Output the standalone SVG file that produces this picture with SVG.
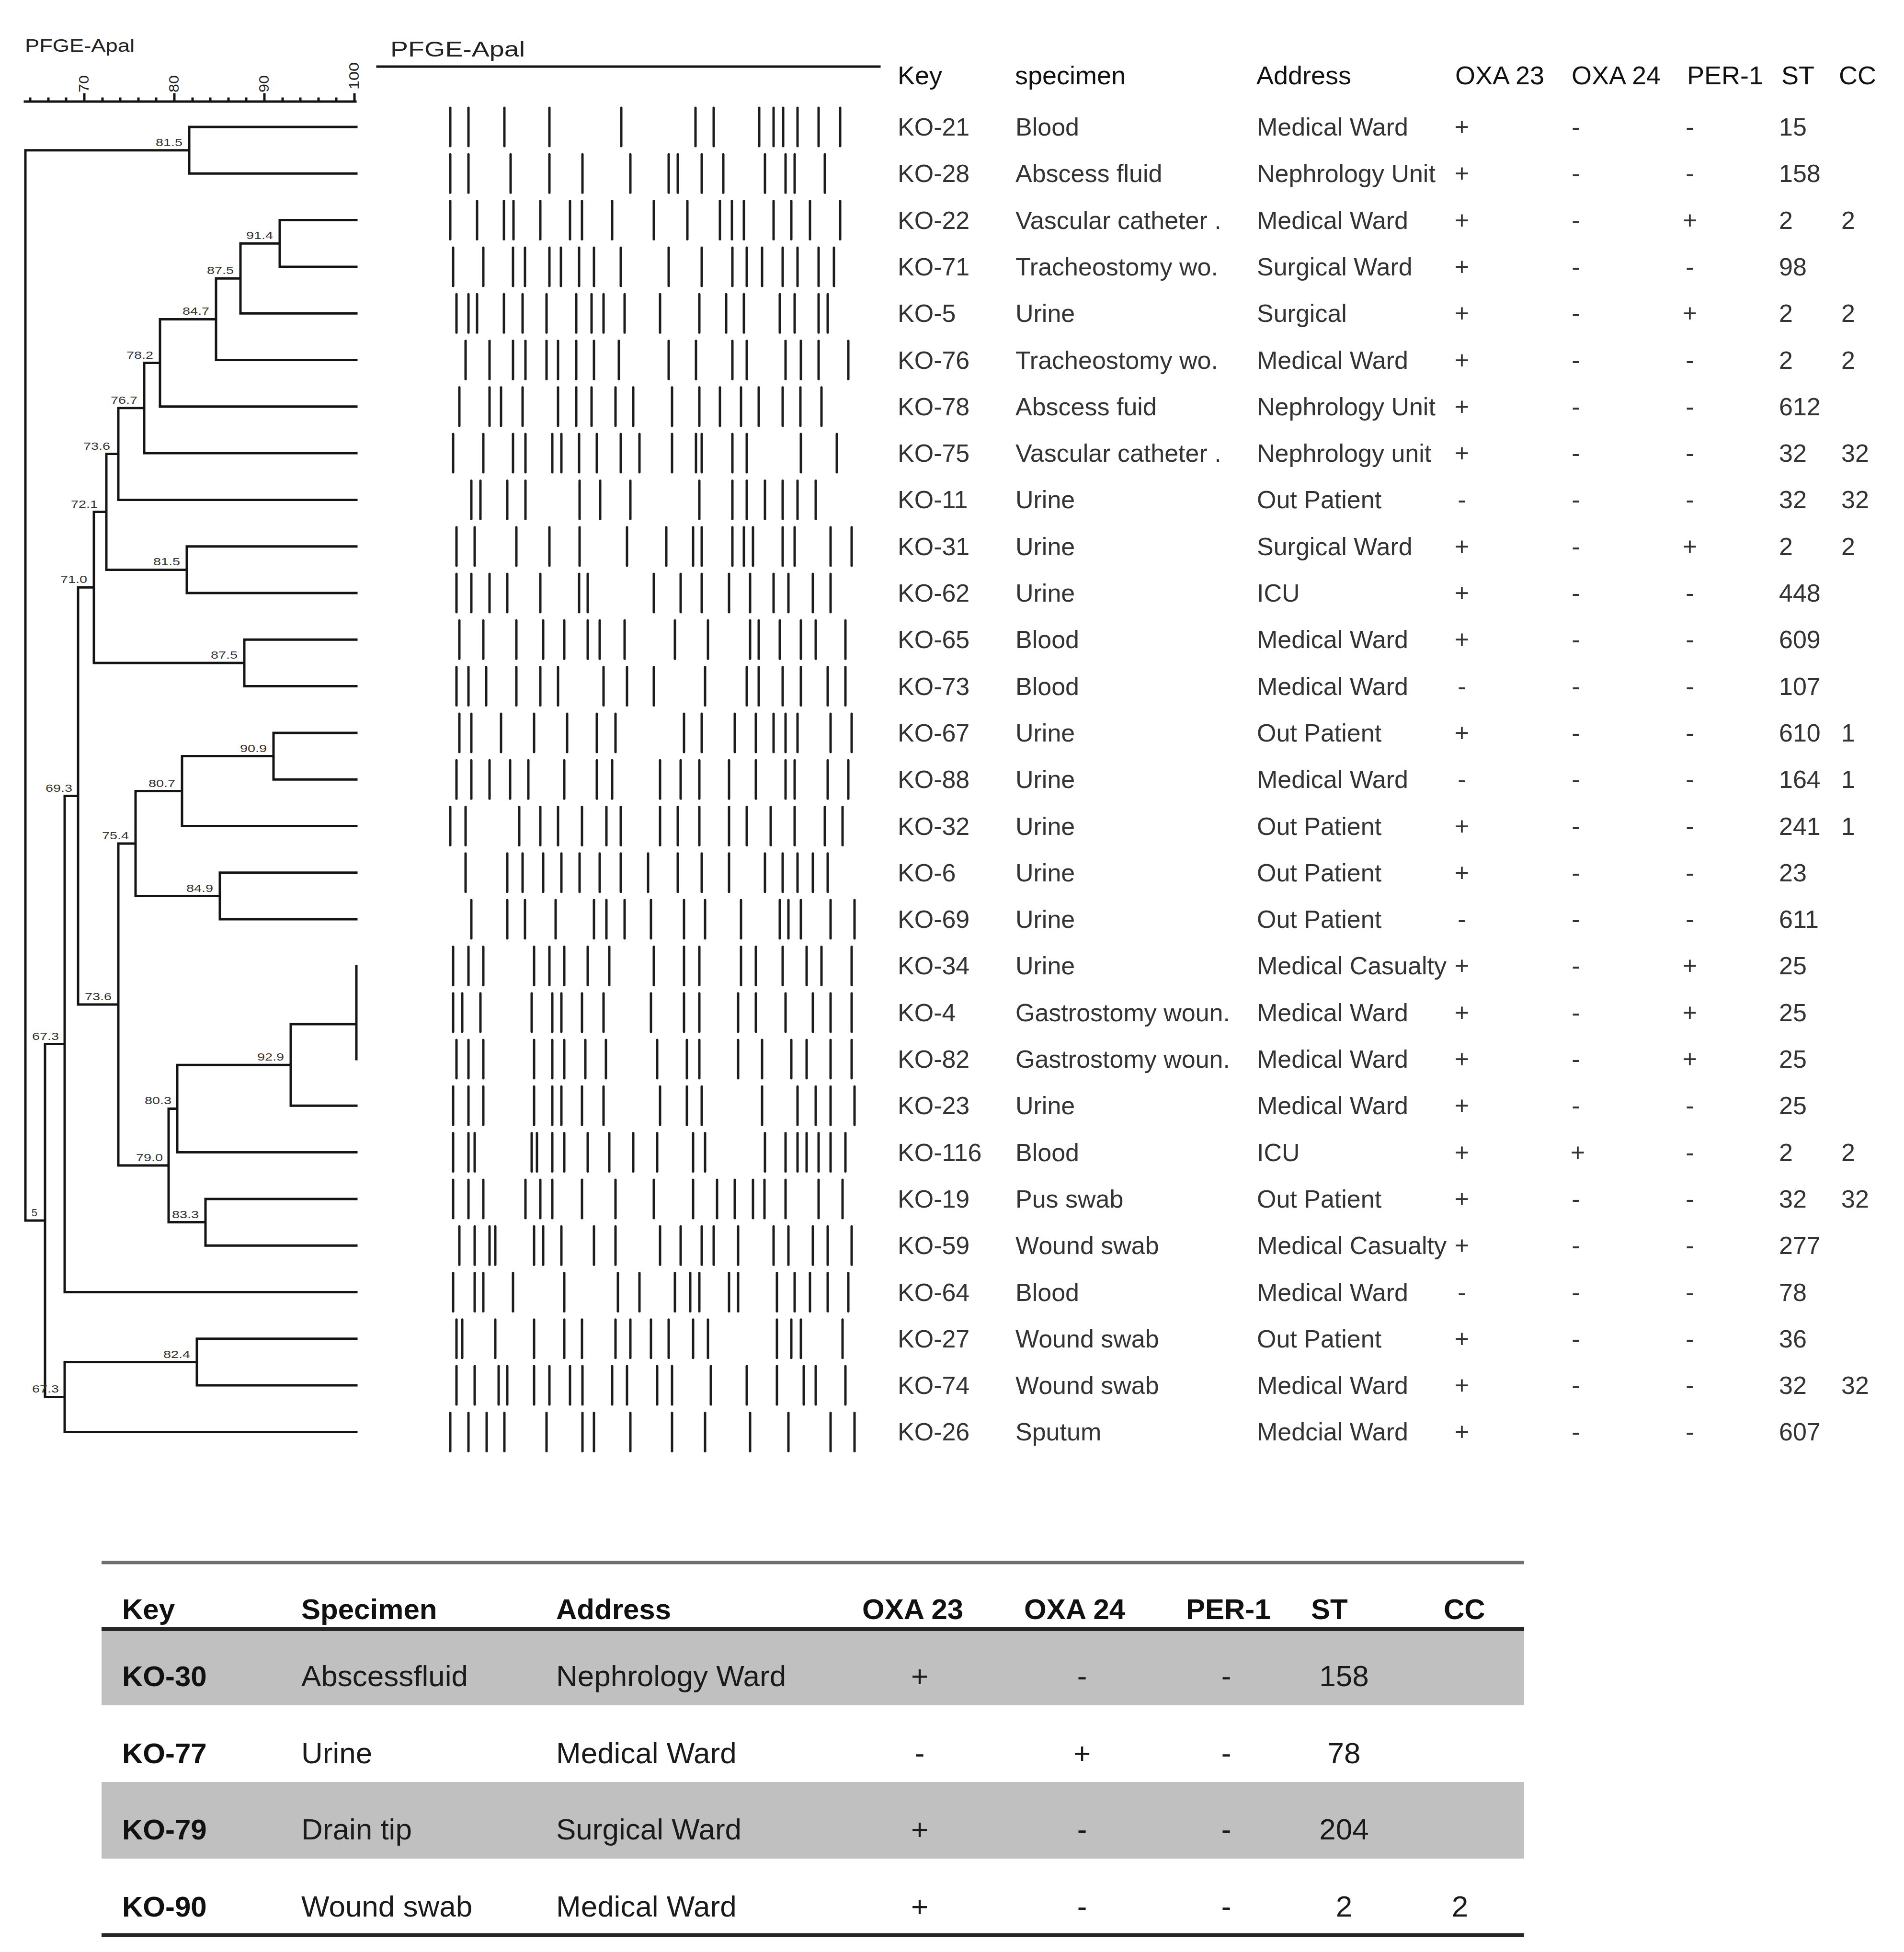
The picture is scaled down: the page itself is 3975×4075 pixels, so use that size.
<svg xmlns="http://www.w3.org/2000/svg" width="3975" height="4075" viewBox="0 0 3975 4075">
<style>
text{font-family:"Liberation Sans",Arial,sans-serif}
.tree{fill:none;stroke:#141414;stroke-width:5;stroke-linecap:square}
.band{fill:none;stroke:#1c1c1c;stroke-width:5;stroke-linecap:round}
.lab{font-size:22px;fill:#333;text-anchor:end}
.tk{font-size:30px;fill:#222}
.h{font-size:54px;fill:#111}
.t{font-size:52px;fill:#333}
.c{text-anchor:middle}
.bh{font-size:60px;font-weight:bold;fill:#111}
.bk{font-size:60px;font-weight:bold;fill:#111}
.bt{font-size:62px;fill:#1a1a1a}
</style>
<rect width="3975" height="4075" fill="#fff"/>

<g id="scale">
<text x="52" y="108" font-size="36" fill="#222" textLength="229" lengthAdjust="spacingAndGlyphs">PFGE-Apal</text>
<path class="tree" stroke-width="4" d="M52 212H742M63 212v-6M101 212v-6M138 212v-6M176 212v-15M214 212v-6M251 212v-6M289 212v-6M326 212v-6M364 212v-15M402 212v-6M439 212v-6M477 212v-6M514 212v-6M552 212v-15M590 212v-6M627 212v-6M665 212v-6M702 212v-6M740 212v-15"/>
<text class="tk" transform="translate(185,193) rotate(-90)" textLength="36" lengthAdjust="spacingAndGlyphs">70</text>
<text class="tk" transform="translate(373,193) rotate(-90)" textLength="36" lengthAdjust="spacingAndGlyphs">80</text>
<text class="tk" transform="translate(561,193) rotate(-90)" textLength="36" lengthAdjust="spacingAndGlyphs">90</text>
<text class="tk" transform="translate(749,187) rotate(-90)" textLength="57" lengthAdjust="spacingAndGlyphs">100</text>
</g>

<g id="dendrogram">
<path class="tree" d="
M53 313.7V2548M53 313.7H395M53 2548H94
M395 265V362.3M395 265H744M395 362.3H744
M584 459.6V556.9M584 459.6H744M584 556.9H744
M502 508.3V654.2M502 508.3H584M502 654.2H744
M451 581.2V751.5M451 581.2H502M451 751.5H744
M334 666.4V848.8M334 666.4H451M334 848.8H744
M301 757.6V946.1M301 757.6H334M301 946.1H744
M247 851.8V1043.4M247 851.8H301M247 1043.4H744
M390 1140.7V1238M390 1140.7H744M390 1238H744
M222 947.6V1189.4M222 947.6H247M222 1189.4H390
M510 1335.3V1432.6M510 1335.3H744M510 1432.6H744
M196 1068.5V1384M196 1068.5H222M196 1384H510
M571 1529.9V1627.2M571 1529.9H744M571 1627.2H744
M380 1578.6V1724.5M380 1578.6H571M380 1724.5H744
M459 1821.8V1919.1M459 1821.8H744M459 1919.1H744
M283 1651.5V1870.5M283 1651.5H380M283 1870.5H459
M744 2016.4V2211
M607 2138V2308.3M607 2138H744M607 2308.3H744
M370 2223.2V2405.6M370 2223.2H607M370 2405.6H744
M429 2502.9V2600.2M429 2502.9H744M429 2600.2H744
M352 2314.4V2551.6M352 2314.4H370M352 2551.6H429
M247 1761V2433M247 1761H283M247 2433H352
M163 1226.2V2097M163 1226.2H196M163 2097H247
M135 1661.6V2697.5M135 1661.6H163M135 2697.5H744
M411 2794.8V2892.1M411 2794.8H744M411 2892.1H744
M135 2843.5V2989.4M135 2843.5H411M135 2989.4H744
M94 2179.6V2916.4M94 2179.6H135M94 2916.4H135"/>
<g id="node-labels">
<text class="lab" x="381" y="304.7" textLength="56" lengthAdjust="spacingAndGlyphs">81.5</text>
<text class="lab" x="570" y="499.3" textLength="56" lengthAdjust="spacingAndGlyphs">91.4</text>
<text class="lab" x="488" y="572.2" textLength="56" lengthAdjust="spacingAndGlyphs">87.5</text>
<text class="lab" x="437" y="657.4" textLength="56" lengthAdjust="spacingAndGlyphs">84.7</text>
<text class="lab" x="320" y="748.6" textLength="56" lengthAdjust="spacingAndGlyphs">78.2</text>
<text class="lab" x="287" y="842.8" textLength="56" lengthAdjust="spacingAndGlyphs">76.7</text>
<text class="lab" x="230" y="938.6" textLength="56" lengthAdjust="spacingAndGlyphs">73.6</text>
<text class="lab" x="376" y="1180.4" textLength="56" lengthAdjust="spacingAndGlyphs">81.5</text>
<text class="lab" x="204" y="1059.5" textLength="56" lengthAdjust="spacingAndGlyphs">72.1</text>
<text class="lab" x="182" y="1217.2" textLength="56" lengthAdjust="spacingAndGlyphs">71.0</text>
<text class="lab" x="496" y="1375" textLength="56" lengthAdjust="spacingAndGlyphs">87.5</text>
<text class="lab" x="557" y="1569.6" textLength="56" lengthAdjust="spacingAndGlyphs">90.9</text>
<text class="lab" x="366" y="1642.5" textLength="56" lengthAdjust="spacingAndGlyphs">80.7</text>
<text class="lab" x="445" y="1861.5" textLength="56" lengthAdjust="spacingAndGlyphs">84.9</text>
<text class="lab" x="269" y="1752" textLength="56" lengthAdjust="spacingAndGlyphs">75.4</text>
<text class="lab" x="593" y="2214.2" textLength="56" lengthAdjust="spacingAndGlyphs">92.9</text>
<text class="lab" x="358" y="2305.4" textLength="56" lengthAdjust="spacingAndGlyphs">80.3</text>
<text class="lab" x="415" y="2542.6" textLength="56" lengthAdjust="spacingAndGlyphs">83.3</text>
<text class="lab" x="340" y="2424" textLength="56" lengthAdjust="spacingAndGlyphs">79.0</text>
<text class="lab" x="233" y="2088" textLength="56" lengthAdjust="spacingAndGlyphs">73.6</text>
<text class="lab" x="151" y="1652.6" textLength="56" lengthAdjust="spacingAndGlyphs">69.3</text>
<text class="lab" x="123" y="2170.6" textLength="56" lengthAdjust="spacingAndGlyphs">67.3</text>
<text class="lab" x="397" y="2834.5" textLength="56" lengthAdjust="spacingAndGlyphs">82.4</text>
<text class="lab" x="123" y="2907.4" textLength="56" lengthAdjust="spacingAndGlyphs">67.3</text>
<text class="lab" x="78" y="2539">5</text>
</g>
</g>

<g id="pfge-bands">
<text x="815" y="118" font-size="44" fill="#222" textLength="281" lengthAdjust="spacingAndGlyphs">PFGE-Apal</text>
<path class="tree" d="M788 139H1836"/>
<g transform="translate(0,265)"><path class="band" d="M940-40v80M978-40v80M1053-40v80M1147-40v80M1297-40v80M1452-40v80M1490-40v80M1585-40v80M1615-40v80M1635-40v80M1665-40v80M1709-40v80M1754-40v80"/></g>
<g transform="translate(0,362.3)"><path class="band" d="M940-40v80M978-40v80M1066-40v80M1147-40v80M1216-40v80M1316-40v80M1396-40v80M1415-40v80M1465-40v80M1510-40v80M1597-40v80M1640-40v80M1659-40v80M1722-40v80"/></g>
<g transform="translate(0,459.6)"><path class="band" d="M940-40v80M996-40v80M1052-40v80M1072-40v80M1128-40v80M1190-40v80M1215-40v80M1278-40v80M1365-40v80M1435-40v80M1503-40v80M1528-40v80M1553-40v80M1615-40v80M1652-40v80M1691-40v80M1754-40v80"/></g>
<g transform="translate(0,556.9)"><path class="band" d="M946-40v80M1009-40v80M1071-40v80M1096-40v80M1147-40v80M1171-40v80M1209-40v80M1240-40v80M1296-40v80M1396-40v80M1465-40v80M1529-40v80M1559-40v80M1591-40v80M1634-40v80M1665-40v80M1709-40v80M1741-40v80"/></g>
<g transform="translate(0,654.2)"><path class="band" d="M953-40v80M978-40v80M996-40v80M1052-40v80M1091-40v80M1141-40v80M1203-40v80M1235-40v80M1260-40v80M1304-40v80M1378-40v80M1460-40v80M1516-40v80M1553-40v80M1628-40v80M1659-40v80M1709-40v80M1728-40v80"/></g>
<g transform="translate(0,751.5)"><path class="band" d="M972-40v80M1022-40v80M1071-40v80M1097-40v80M1141-40v80M1165-40v80M1203-40v80M1240-40v80M1292-40v80M1396-40v80M1453-40v80M1529-40v80M1559-40v80M1640-40v80M1672-40v80M1709-40v80M1771-40v80"/></g>
<g transform="translate(0,848.8)"><path class="band" d="M959-40v80M1022-40v80M1046-40v80M1091-40v80M1165-40v80M1203-40v80M1235-40v80M1285-40v80M1322-40v80M1403-40v80M1460-40v80M1503-40v80M1547-40v80M1584-40v80M1634-40v80M1671-40v80M1715-40v80"/></g>
<g transform="translate(0,946.1)"><path class="band" d="M946-40v80M1009-40v80M1071-40v80M1097-40v80M1153-40v80M1172-40v80M1209-40v80M1246-40v80M1296-40v80M1335-40v80M1403-40v80M1453-40v80M1465-40v80M1529-40v80M1559-40v80M1672-40v80M1747-40v80"/></g>
<g transform="translate(0,1043.4)"><path class="band" d="M984-40v80M1003-40v80M1059-40v80M1097-40v80M1210-40v80M1253-40v80M1316-40v80M1460-40v80M1529-40v80M1559-40v80M1597-40v80M1634-40v80M1665-40v80M1703-40v80"/></g>
<g transform="translate(0,1140.7)"><path class="band" d="M953-40v80M991-40v80M1078-40v80M1147-40v80M1210-40v80M1309-40v80M1391-40v80M1447-40v80M1465-40v80M1529-40v80M1553-40v80M1572-40v80M1634-40v80M1659-40v80M1734-40v80M1778-40v80"/></g>
<g transform="translate(0,1238)"><path class="band" d="M953-40v80M984-40v80M1022-40v80M1059-40v80M1128-40v80M1209-40v80M1227-40v80M1365-40v80M1421-40v80M1465-40v80M1522-40v80M1566-40v80M1615-40v80M1646-40v80M1697-40v80M1734-40v80"/></g>
<g transform="translate(0,1335.3)"><path class="band" d="M959-40v80M1009-40v80M1078-40v80M1134-40v80M1178-40v80M1227-40v80M1252-40v80M1304-40v80M1409-40v80M1478-40v80M1566-40v80M1584-40v80M1628-40v80M1672-40v80M1703-40v80M1765-40v80"/></g>
<g transform="translate(0,1432.6)"><path class="band" d="M953-40v80M978-40v80M1015-40v80M1078-40v80M1128-40v80M1165-40v80M1260-40v80M1309-40v80M1365-40v80M1472-40v80M1559-40v80M1584-40v80M1634-40v80M1672-40v80M1728-40v80M1765-40v80"/></g>
<g transform="translate(0,1529.9)"><path class="band" d="M959-40v80M984-40v80M1046-40v80M1115-40v80M1184-40v80M1246-40v80M1285-40v80M1428-40v80M1465-40v80M1534-40v80M1578-40v80M1615-40v80M1640-40v80M1665-40v80M1734-40v80M1778-40v80"/></g>
<g transform="translate(0,1627.2)"><path class="band" d="M953-40v80M984-40v80M1022-40v80M1065-40v80M1103-40v80M1178-40v80M1246-40v80M1278-40v80M1378-40v80M1421-40v80M1460-40v80M1522-40v80M1578-40v80M1640-40v80M1659-40v80M1728-40v80M1771-40v80"/></g>
<g transform="translate(0,1724.5)"><path class="band" d="M940-40v80M972-40v80M1084-40v80M1128-40v80M1165-40v80M1215-40v80M1266-40v80M1296-40v80M1378-40v80M1415-40v80M1460-40v80M1522-40v80M1559-40v80M1609-40v80M1659-40v80M1722-40v80M1759-40v80"/></g>
<g transform="translate(0,1821.8)"><path class="band" d="M972-40v80M1059-40v80M1091-40v80M1134-40v80M1172-40v80M1210-40v80M1252-40v80M1296-40v80M1353-40v80M1415-40v80M1465-40v80M1522-40v80M1597-40v80M1634-40v80M1665-40v80M1697-40v80M1728-40v80"/></g>
<g transform="translate(0,1919.1)"><path class="band" d="M984-40v80M1059-40v80M1096-40v80M1160-40v80M1240-40v80M1266-40v80M1304-40v80M1359-40v80M1428-40v80M1472-40v80M1547-40v80M1628-40v80M1646-40v80M1672-40v80M1734-40v80M1784-40v80"/></g>
<g transform="translate(0,2016.4)"><path class="band" d="M946-40v80M978-40v80M1009-40v80M1115-40v80M1147-40v80M1178-40v80M1227-40v80M1272-40v80M1365-40v80M1428-40v80M1460-40v80M1547-40v80M1578-40v80M1634-40v80M1684-40v80M1715-40v80M1778-40v80"/></g>
<g transform="translate(0,2113.7)"><path class="band" d="M946-40v80M965-40v80M1003-40v80M1110-40v80M1153-40v80M1172-40v80M1215-40v80M1260-40v80M1359-40v80M1428-40v80M1460-40v80M1541-40v80M1578-40v80M1640-40v80M1697-40v80M1734-40v80M1778-40v80"/></g>
<g transform="translate(0,2211)"><path class="band" d="M953-40v80M978-40v80M1009-40v80M1115-40v80M1153-40v80M1178-40v80M1222-40v80M1265-40v80M1372-40v80M1434-40v80M1460-40v80M1541-40v80M1591-40v80M1652-40v80M1684-40v80M1734-40v80M1778-40v80"/></g>
<g transform="translate(0,2308.3)"><path class="band" d="M946-40v80M978-40v80M1009-40v80M1115-40v80M1153-40v80M1172-40v80M1215-40v80M1260-40v80M1378-40v80M1434-40v80M1465-40v80M1591-40v80M1665-40v80M1703-40v80M1734-40v80M1784-40v80"/></g>
<g transform="translate(0,2405.6)"><path class="band" d="M946-40v80M978-40v80M991-40v80M1110-40v80M1121-40v80M1153-40v80M1178-40v80M1227-40v80M1272-40v80M1322-40v80M1372-40v80M1447-40v80M1472-40v80M1597-40v80M1640-40v80M1665-40v80M1684-40v80M1709-40v80M1734-40v80M1765-40v80"/></g>
<g transform="translate(0,2502.9)"><path class="band" d="M946-40v80M978-40v80M1009-40v80M1097-40v80M1128-40v80M1153-40v80M1215-40v80M1285-40v80M1365-40v80M1447-40v80M1497-40v80M1534-40v80M1572-40v80M1596-40v80M1640-40v80M1709-40v80M1759-40v80"/></g>
<g transform="translate(0,2600.2)"><path class="band" d="M959-40v80M991-40v80M1022-40v80M1034-40v80M1115-40v80M1134-40v80M1172-40v80M1240-40v80M1285-40v80M1378-40v80M1421-40v80M1465-40v80M1490-40v80M1541-40v80M1615-40v80M1646-40v80M1697-40v80M1728-40v80M1778-40v80"/></g>
<g transform="translate(0,2697.5)"><path class="band" d="M946-40v80M991-40v80M1009-40v80M1071-40v80M1178-40v80M1290-40v80M1335-40v80M1409-40v80M1441-40v80M1460-40v80M1522-40v80M1541-40v80M1622-40v80M1659-40v80M1691-40v80M1728-40v80M1771-40v80"/></g>
<g transform="translate(0,2794.8)"><path class="band" d="M953-40v80M965-40v80M1034-40v80M1115-40v80M1178-40v80M1215-40v80M1285-40v80M1316-40v80M1359-40v80M1396-40v80M1447-40v80M1478-40v80M1622-40v80M1652-40v80M1672-40v80M1759-40v80"/></g>
<g transform="translate(0,2892.1)"><path class="band" d="M953-40v80M991-40v80M1041-40v80M1059-40v80M1115-40v80M1147-40v80M1190-40v80M1216-40v80M1278-40v80M1309-40v80M1372-40v80M1403-40v80M1484-40v80M1559-40v80M1622-40v80M1678-40v80M1703-40v80M1765-40v80"/></g>
<g transform="translate(0,2989.4)"><path class="band" d="M940-40v80M978-40v80M1016-40v80M1053-40v80M1141-40v80M1216-40v80M1240-40v80M1316-40v80M1403-40v80M1472-40v80M1566-40v80M1646-40v80M1734-40v80M1784-40v80"/></g>
</g>

<g id="isolate-table">
<g id="hdr">
<text class="h" x="1874" y="176">Key</text>
<text class="h" x="2119" y="176">specimen</text>
<text class="h" x="2623" y="176">Address</text>
<text class="h" x="3038" y="176">OXA 23</text>
<text class="h" x="3281" y="176">OXA 24</text>
<text class="h" x="3522" y="176">PER-1</text>
<text class="h" x="3719" y="176">ST</text>
<text class="h" x="3839" y="176">CC</text>
</g>
<g id="r-KO-21" class="t" transform="translate(0,283)"><text class="t" x="1874">KO-21</text><text class="t" x="2120">Blood</text><text class="t" x="2624">Medical Ward</text><text class="t c" x="3052">+</text><text class="t c" x="3290">-</text><text class="t c" x="3528">-</text><text class="t" x="3714">15</text></g>
<g id="r-KO-28" transform="translate(0,380.3)"><text class="t" x="1874">KO-28</text><text class="t" x="2120">Abscess fluid</text><text class="t" x="2624">Nephrology Unit</text><text class="t c" x="3052">+</text><text class="t c" x="3290">-</text><text class="t c" x="3528">-</text><text class="t" x="3714">158</text></g>
<g id="r-KO-22" transform="translate(0,477.6)"><text class="t" x="1874">KO-22</text><text class="t" x="2120">Vascular catheter .</text><text class="t" x="2624">Medical Ward</text><text class="t c" x="3052">+</text><text class="t c" x="3290">-</text><text class="t c" x="3528">+</text><text class="t" x="3714">2</text><text class="t" x="3844">2</text></g>
<g id="r-KO-71" transform="translate(0,574.9)"><text class="t" x="1874">KO-71</text><text class="t" x="2120">Tracheostomy wo.</text><text class="t" x="2624">Surgical Ward</text><text class="t c" x="3052">+</text><text class="t c" x="3290">-</text><text class="t c" x="3528">-</text><text class="t" x="3714">98</text></g>
<g id="r-KO-5" transform="translate(0,672.2)"><text class="t" x="1874">KO-5</text><text class="t" x="2120">Urine</text><text class="t" x="2624">Surgical</text><text class="t c" x="3052">+</text><text class="t c" x="3290">-</text><text class="t c" x="3528">+</text><text class="t" x="3714">2</text><text class="t" x="3844">2</text></g>
<g id="r-KO-76" transform="translate(0,769.5)"><text class="t" x="1874">KO-76</text><text class="t" x="2120">Tracheostomy wo.</text><text class="t" x="2624">Medical Ward</text><text class="t c" x="3052">+</text><text class="t c" x="3290">-</text><text class="t c" x="3528">-</text><text class="t" x="3714">2</text><text class="t" x="3844">2</text></g>
<g id="r-KO-78" transform="translate(0,866.8)"><text class="t" x="1874">KO-78</text><text class="t" x="2120">Abscess fuid</text><text class="t" x="2624">Nephrology Unit</text><text class="t c" x="3052">+</text><text class="t c" x="3290">-</text><text class="t c" x="3528">-</text><text class="t" x="3714">612</text></g>
<g id="r-KO-75" transform="translate(0,964.1)"><text class="t" x="1874">KO-75</text><text class="t" x="2120">Vascular catheter .</text><text class="t" x="2624">Nephrology unit</text><text class="t c" x="3052">+</text><text class="t c" x="3290">-</text><text class="t c" x="3528">-</text><text class="t" x="3714">32</text><text class="t" x="3844">32</text></g>
<g id="r-KO-11" transform="translate(0,1061.4)"><text class="t" x="1874">KO-11</text><text class="t" x="2120">Urine</text><text class="t" x="2624">Out Patient</text><text class="t c" x="3052">-</text><text class="t c" x="3290">-</text><text class="t c" x="3528">-</text><text class="t" x="3714">32</text><text class="t" x="3844">32</text></g>
<g id="r-KO-31" transform="translate(0,1158.7)"><text class="t" x="1874">KO-31</text><text class="t" x="2120">Urine</text><text class="t" x="2624">Surgical Ward</text><text class="t c" x="3052">+</text><text class="t c" x="3290">-</text><text class="t c" x="3528">+</text><text class="t" x="3714">2</text><text class="t" x="3844">2</text></g>
<g id="r-KO-62" transform="translate(0,1256)"><text class="t" x="1874">KO-62</text><text class="t" x="2120">Urine</text><text class="t" x="2624">ICU</text><text class="t c" x="3052">+</text><text class="t c" x="3290">-</text><text class="t c" x="3528">-</text><text class="t" x="3714">448</text></g>
<g id="r-KO-65" transform="translate(0,1353.3)"><text class="t" x="1874">KO-65</text><text class="t" x="2120">Blood</text><text class="t" x="2624">Medical Ward</text><text class="t c" x="3052">+</text><text class="t c" x="3290">-</text><text class="t c" x="3528">-</text><text class="t" x="3714">609</text></g>
<g id="r-KO-73" transform="translate(0,1450.6)"><text class="t" x="1874">KO-73</text><text class="t" x="2120">Blood</text><text class="t" x="2624">Medical Ward</text><text class="t c" x="3052">-</text><text class="t c" x="3290">-</text><text class="t c" x="3528">-</text><text class="t" x="3714">107</text></g>
<g id="r-KO-67" transform="translate(0,1547.9)"><text class="t" x="1874">KO-67</text><text class="t" x="2120">Urine</text><text class="t" x="2624">Out Patient</text><text class="t c" x="3052">+</text><text class="t c" x="3290">-</text><text class="t c" x="3528">-</text><text class="t" x="3714">610</text><text class="t" x="3844">1</text></g>
<g id="r-KO-88" transform="translate(0,1645.2)"><text class="t" x="1874">KO-88</text><text class="t" x="2120">Urine</text><text class="t" x="2624">Medical Ward</text><text class="t c" x="3052">-</text><text class="t c" x="3290">-</text><text class="t c" x="3528">-</text><text class="t" x="3714">164</text><text class="t" x="3844">1</text></g>
<g id="r-KO-32" transform="translate(0,1742.5)"><text class="t" x="1874">KO-32</text><text class="t" x="2120">Urine</text><text class="t" x="2624">Out Patient</text><text class="t c" x="3052">+</text><text class="t c" x="3290">-</text><text class="t c" x="3528">-</text><text class="t" x="3714">241</text><text class="t" x="3844">1</text></g>
<g id="r-KO-6" transform="translate(0,1839.8)"><text class="t" x="1874">KO-6</text><text class="t" x="2120">Urine</text><text class="t" x="2624">Out Patient</text><text class="t c" x="3052">+</text><text class="t c" x="3290">-</text><text class="t c" x="3528">-</text><text class="t" x="3714">23</text></g>
<g id="r-KO-69" transform="translate(0,1937.1)"><text class="t" x="1874">KO-69</text><text class="t" x="2120">Urine</text><text class="t" x="2624">Out Patient</text><text class="t c" x="3052">-</text><text class="t c" x="3290">-</text><text class="t c" x="3528">-</text><text class="t" x="3714">611</text></g>
<g id="r-KO-34" transform="translate(0,2034.4)"><text class="t" x="1874">KO-34</text><text class="t" x="2120">Urine</text><text class="t" x="2624">Medical Casualty</text><text class="t c" x="3052">+</text><text class="t c" x="3290">-</text><text class="t c" x="3528">+</text><text class="t" x="3714">25</text></g>
<g id="r-KO-4" transform="translate(0,2131.7)"><text class="t" x="1874">KO-4</text><text class="t" x="2120">Gastrostomy woun.</text><text class="t" x="2624">Medical Ward</text><text class="t c" x="3052">+</text><text class="t c" x="3290">-</text><text class="t c" x="3528">+</text><text class="t" x="3714">25</text></g>
<g id="r-KO-82" transform="translate(0,2229)"><text class="t" x="1874">KO-82</text><text class="t" x="2120">Gastrostomy woun.</text><text class="t" x="2624">Medical Ward</text><text class="t c" x="3052">+</text><text class="t c" x="3290">-</text><text class="t c" x="3528">+</text><text class="t" x="3714">25</text></g>
<g id="r-KO-23" transform="translate(0,2326.3)"><text class="t" x="1874">KO-23</text><text class="t" x="2120">Urine</text><text class="t" x="2624">Medical Ward</text><text class="t c" x="3052">+</text><text class="t c" x="3290">-</text><text class="t c" x="3528">-</text><text class="t" x="3714">25</text></g>
<g id="r-KO-116" transform="translate(0,2423.6)"><text class="t" x="1874">KO-116</text><text class="t" x="2120">Blood</text><text class="t" x="2624">ICU</text><text class="t c" x="3052">+</text><text class="t c" x="3294">+</text><text class="t c" x="3528">-</text><text class="t" x="3714">2</text><text class="t" x="3844">2</text></g>
<g id="r-KO-19" transform="translate(0,2520.9)"><text class="t" x="1874">KO-19</text><text class="t" x="2120">Pus swab</text><text class="t" x="2624">Out Patient</text><text class="t c" x="3052">+</text><text class="t c" x="3290">-</text><text class="t c" x="3528">-</text><text class="t" x="3714">32</text><text class="t" x="3844">32</text></g>
<g id="r-KO-59" transform="translate(0,2618.2)"><text class="t" x="1874">KO-59</text><text class="t" x="2120">Wound swab</text><text class="t" x="2624">Medical Casualty</text><text class="t c" x="3052">+</text><text class="t c" x="3290">-</text><text class="t c" x="3528">-</text><text class="t" x="3714">277</text></g>
<g id="r-KO-64" transform="translate(0,2715.5)"><text class="t" x="1874">KO-64</text><text class="t" x="2120">Blood</text><text class="t" x="2624">Medical Ward</text><text class="t c" x="3052">-</text><text class="t c" x="3290">-</text><text class="t c" x="3528">-</text><text class="t" x="3714">78</text></g>
<g id="r-KO-27" transform="translate(0,2812.8)"><text class="t" x="1874">KO-27</text><text class="t" x="2120">Wound swab</text><text class="t" x="2624">Out Patient</text><text class="t c" x="3052">+</text><text class="t c" x="3290">-</text><text class="t c" x="3528">-</text><text class="t" x="3714">36</text></g>
<g id="r-KO-74" transform="translate(0,2910.1)"><text class="t" x="1874">KO-74</text><text class="t" x="2120">Wound swab</text><text class="t" x="2624">Medical Ward</text><text class="t c" x="3052">+</text><text class="t c" x="3290">-</text><text class="t c" x="3528">-</text><text class="t" x="3714">32</text><text class="t" x="3844">32</text></g>
<g id="r-KO-26" transform="translate(0,3007.4)"><text class="t" x="1874">KO-26</text><text class="t" x="2120">Sputum</text><text class="t" x="2624">Medcial Ward</text><text class="t c" x="3052">+</text><text class="t c" x="3290">-</text><text class="t c" x="3528">-</text><text class="t" x="3714">607</text></g>
</g>

<g id="extra-table">
<rect x="212" y="3405" width="2970" height="155" fill="#c0c0c0"/>
<rect x="212" y="3720" width="2970" height="160" fill="#c0c0c0"/>
<path d="M212 3262H3182" stroke="#6e6e6e" stroke-width="7"/>
<path d="M212 3401H3182M212 4040H3182" stroke="#262626" stroke-width="8"/>
<g id="x-hdr">
<text class="bh" x="255" y="3380">Key</text>
<text class="bh" x="629" y="3380">Specimen</text>
<text class="bh" x="1161" y="3380">Address</text>
<text class="bh" x="1800" y="3380">OXA 23</text>
<text class="bh" x="2138" y="3380">OXA 24</text>
<text class="bh" x="2476" y="3380">PER-1</text>
<text class="bh" x="2737" y="3380">ST</text>
<text class="bh" x="3014" y="3380">CC</text>
</g>
<g id="x-KO-30" transform="translate(0,3520)"><text class="bk" x="255">KO-30</text><text class="bt" x="629">Abscessfluid</text><text class="bt" x="1161">Nephrology Ward</text><text class="bt c" x="1920">+</text><text class="bt c" x="2259">-</text><text class="bt c" x="2560">-</text><text class="bt c" x="2806">158</text></g>
<g id="x-KO-77" transform="translate(0,3681)"><text class="bk" x="255">KO-77</text><text class="bt" x="629">Urine</text><text class="bt" x="1161">Medical Ward</text><text class="bt c" x="1920">-</text><text class="bt c" x="2259">+</text><text class="bt c" x="2560">-</text><text class="bt c" x="2806">78</text></g>
<g id="x-KO-79" transform="translate(0,3840)"><text class="bk" x="255">KO-79</text><text class="bt" x="629">Drain tip</text><text class="bt" x="1161">Surgical Ward</text><text class="bt c" x="1920">+</text><text class="bt c" x="2259">-</text><text class="bt c" x="2560">-</text><text class="bt c" x="2806">204</text></g>
<g id="x-KO-90" transform="translate(0,4001)"><text class="bk" x="255">KO-90</text><text class="bt" x="629">Wound swab</text><text class="bt" x="1161">Medical Ward</text><text class="bt c" x="1920">+</text><text class="bt c" x="2259">-</text><text class="bt c" x="2560">-</text><text class="bt c" x="2806">2</text><text class="bt c" x="3048">2</text></g>
</g>
</svg>
